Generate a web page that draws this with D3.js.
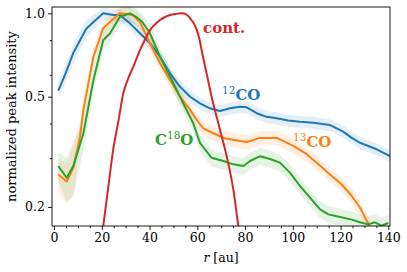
<!DOCTYPE html>
<html><head><meta charset="utf-8">
<script src="https://cdn.jsdelivr.net/npm/d3@7"></script>
<style>
body{margin:0;background:#fff;}
svg{display:block;font-family:"DejaVu Serif",serif;}
</style></head>
<body><svg id="c" width="407" height="272"></svg>
<script>
// ---- data ----
const r12 = [1.8, 4.6, 8.1, 10.9, 13.5, 16.5, 20.6, 24.8, 27.6, 31.8, 36, 40.2, 44.4, 48.6, 52.8, 57, 61.1, 65.3, 69.5, 73.7, 77.9, 80.7, 84.9, 89, 93.3, 98, 103, 108.6, 115.6, 121.1, 124.5, 128.1, 135.1, 140.7];
const v12 = [0.526, 0.6, 0.72, 0.8, 0.88, 0.93, 1.0, 0.986, 0.986, 0.92, 0.847, 0.78, 0.697, 0.607, 0.543, 0.5, 0.473, 0.454, 0.444, 0.454, 0.46, 0.458, 0.436, 0.423, 0.418, 0.41, 0.406, 0.403, 0.395, 0.374, 0.356, 0.341, 0.323, 0.305];
const e12 = [0.06, 0.07, 0.08, 0.08, 0.07, 0.06, 0.05, 0.05, 0.05, 0.05, 0.05, 0.05, 0.05, 0.05, 0.05, 0.05, 0.05, 0.05, 0.05, 0.05, 0.05, 0.05, 0.05, 0.05, 0.05, 0.05, 0.05, 0.05, 0.05, 0.05, 0.05, 0.05, 0.05, 0.05];

const r13 = [1.8, 5.3, 8.1, 10.9, 12.3, 16.5, 20.6, 23.5, 27.6, 30.4, 33, 36, 40.2, 44.4, 48.6, 52.8, 57, 59.8, 62.5, 66.7, 70.9, 77.9, 80.7, 86.3, 93.3, 100.2, 105.8, 110, 115.6, 120.5, 124.7, 128.1, 131.6, 134];
const v13 = [0.262, 0.247, 0.277, 0.36, 0.448, 0.697, 0.883, 0.933, 1.0, 0.994, 0.985, 0.93, 0.78, 0.66, 0.574, 0.5, 0.448, 0.412, 0.384, 0.369, 0.355, 0.346, 0.343, 0.355, 0.355, 0.332, 0.31, 0.289, 0.262, 0.241, 0.219, 0.199, 0.174, 0.16];
const e13 = [0.14, 0.17, 0.2, 0.12, 0.1, 0.08, 0.07, 0.06, 0.06, 0.06, 0.06, 0.06, 0.06, 0.06, 0.06, 0.06, 0.06, 0.06, 0.06, 0.06, 0.06, 0.06, 0.06, 0.06, 0.06, 0.06, 0.06, 0.06, 0.06, 0.06, 0.06, 0.06, 0.06, 0.06];

const r18 = [1.8, 5.3, 8.1, 12.3, 16.5, 20.6, 23.5, 27.6, 31.8, 34.3, 37, 40.2, 44.4, 50, 54.1, 58.3, 61.1, 66, 70.9, 75.1, 79.3, 82.1, 86.3, 90.5, 94.6, 98.8, 103, 107.2, 111.4, 114.9, 119.8, 124.7, 128.1, 131.6, 134.4, 137.2, 140];
const v18 = [0.281, 0.255, 0.281, 0.369, 0.574, 0.8, 0.847, 0.972, 1.0, 0.972, 0.93, 0.847, 0.697, 0.559, 0.473, 0.401, 0.341, 0.301, 0.293, 0.285, 0.281, 0.293, 0.305, 0.298, 0.289, 0.266, 0.238, 0.216, 0.196, 0.188, 0.184, 0.18, 0.176, 0.173, 0.176, 0.171, 0.175];
const e18 = [0.12, 0.18, 0.22, 0.14, 0.1, 0.08, 0.07, 0.07, 0.07, 0.07, 0.07, 0.07, 0.07, 0.07, 0.07, 0.07, 0.07, 0.07, 0.07, 0.07, 0.07, 0.07, 0.07, 0.07, 0.07, 0.07, 0.07, 0.07, 0.07, 0.07, 0.07, 0.07, 0.07, 0.07, 0.07, 0.07, 0.07];

const rCont = [20.4, 22.7, 24.8, 27, 29, 31, 33.2, 36, 38, 40.2, 42.5, 44.4, 46.5, 48.6, 51, 53.5, 55.5, 57, 58.5, 59.8, 61, 61.8, 63.9, 66, 68.1, 70.2, 72.3, 75.1, 77.2, 78];
const vCont = [0.165, 0.235, 0.323, 0.41, 0.514, 0.58, 0.642, 0.737, 0.8, 0.87, 0.915, 0.946, 0.97, 0.986, 0.995, 1.0, 0.99, 0.959, 0.92, 0.87, 0.8, 0.737, 0.607, 0.5, 0.423, 0.36, 0.305, 0.231, 0.171, 0.155];

const xTicks = [0, 20, 40, 60, 80, 100, 120, 140];
const xMinor = d3.range(0, 141, 5);
const yTicks = [0.2, 0.5, 1.0];
const yTickLabels = ["0.2", "0.5", "1.0"];
const yMinor = [0.3, 0.4, 0.6, 0.8];

const series = [
  {name:"12CO", r:r12, v:v12, e:e12, color:"#1f77b4"},
  {name:"13CO", r:r13, v:v13, e:e13, color:"#ff7f0e"},
  {name:"C18O", r:r18, v:v18, e:e18, color:"#2ca02c"},
];

// ---- layout ----
const L = 52, R = 390, T = 7, B = 226;
const svg = d3.select("#c");
const x = d3.scaleLinear().domain([-0.84, 140.7]).range([L, R]);
const y = d3.scaleLog().domain([0.1707, 1.054]).range([B, T]);

svg.append("defs").append("clipPath").attr("id","clip")
  .append("rect").attr("x",L).attr("y",T).attr("width",R-L).attr("height",B-T);

const g = svg.append("g").attr("clip-path","url(#clip)");

series.forEach(s => {
  const pts = s.r.map((r,i)=>({r, v:s.v[i], e:s.e[i]}));
  const area = d3.area().x(d=>x(d.r)).y0(d=>y(d.v*(1-d.e))).y1(d=>y(d.v*(1+d.e)));
  g.append("path").attr("d", area(pts)).attr("fill", s.color).attr("fill-opacity",0.12);
});
series.forEach(s => {
  const pts = s.r.map((r,i)=>({r, v:s.v[i]}));
  const line = d3.line().x(d=>x(d.r)).y(d=>y(d.v));
  g.append("path").attr("d", line(pts)).attr("fill","none").attr("stroke", s.color).attr("stroke-width",2).attr("stroke-linejoin","round");
});
{
  const pts = rCont.map((r,i)=>({r, v:vCont[i]}));
  const line = d3.line().curve(d3.curveMonotoneX).x(d=>x(d.r)).y(d=>y(d.v));
  g.append("path").attr("d", line(pts)).attr("fill","none").attr("stroke","#d62728").attr("stroke-width",2);
}

// axes
const fs = 12.5;
const xAxis = d3.axisBottom(x).tickValues(xTicks).tickFormat(d3.format("d")).tickSize(4).tickPadding(3);
const xa = svg.append("g").attr("transform",`translate(0,${B})`).call(xAxis);
const xAxisMinor = d3.axisBottom(x).tickValues(xMinor.filter(v=>!xTicks.includes(v))).tickFormat("").tickSize(2.2);
const xm = svg.append("g").attr("transform",`translate(0,${B})`).call(xAxisMinor);
const yAxis = d3.axisLeft(y).tickValues(yTicks).tickFormat((d,i)=>yTickLabels[i]).tickSize(4).tickPadding(3);
const ya = svg.append("g").attr("transform",`translate(${L},0)`).call(yAxis);
const yAxisMinor = d3.axisLeft(y).tickValues(yMinor).tickFormat("").tickSize(2.2);
const ym = svg.append("g").attr("transform",`translate(${L},0)`).call(yAxisMinor);
[xa,xm,ya,ym].forEach(a=>{
  a.select(".domain").remove();
  a.selectAll("line").attr("stroke","#000").attr("stroke-width",0.9);
  a.selectAll("text").attr("font-family","DejaVu Serif").attr("font-size",fs).attr("fill","#000");
});
svg.append("rect").attr("x",L).attr("y",T).attr("width",R-L).attr("height",B-T)
  .attr("fill","none").attr("stroke","#000").attr("stroke-width",0.9);

// axis labels
const xl = svg.append("text").attr("x",(L+R)/2).attr("y",262).attr("text-anchor","middle").attr("font-size",fs);
xl.append("tspan").attr("font-style","italic").text("r");
xl.append("tspan").text(" [au]");
svg.append("text").attr("transform",`translate(16,${(T+B)/2}) rotate(-90)`).attr("text-anchor","middle").attr("font-size",13).text("normalized peak intensity");

// series labels
function lab(xp, yp, color, parts){
  const t = svg.append("text").attr("x",xp).attr("y",yp).attr("fill",color).attr("font-weight","bold").attr("font-size",15);
  parts.forEach(p=>{
    const ts = t.append("tspan").text(p.t);
    if(p.sup){ ts.attr("font-size",10.5).attr("font-weight","normal").attr("dy",-6); }
    if(p.down){ ts.attr("dy",6); }
  });
}
lab(203, 33, "#d62728", [{t:"cont."}]);
lab(222, 100, "#1f77b4", [{t:"12",sup:true},{t:"CO",down:true}]);
lab(293, 147, "#ff7f0e", [{t:"13",sup:true},{t:"CO",down:true}]);
lab(155, 145, "#2ca02c", [{t:"C"},{t:"18",sup:true},{t:"O",down:true}]);
</script></body></html>
